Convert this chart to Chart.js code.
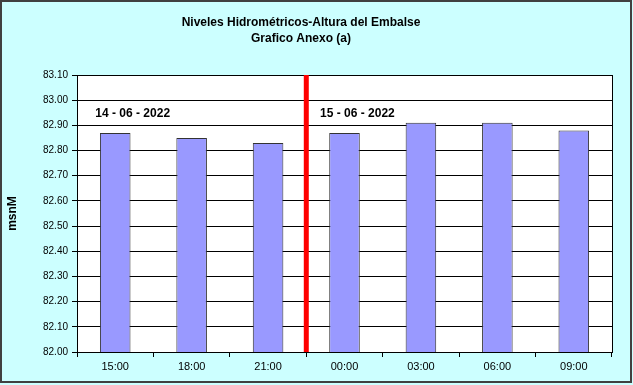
<!DOCTYPE html>
<html>
<head>
<meta charset="utf-8">
<script src="https://cdn.jsdelivr.net/npm/chart.js@4/dist/chart.umd.min.js"></script>
<style>
    html, body { margin: 0; padding: 0; background: #ccffff; }
    #wrap { width: 633px; height: 385px; }
</style>
</head>
<body>
<div id="wrap"><canvas id="level-chart" width="633" height="385"></canvas></div>
<script>
const hours = ['15:00', '18:00', '21:00', '00:00', '03:00', '06:00', '09:00'];
const levels = [82.87, 82.85, 82.83, 82.87, 82.91, 82.91, 82.88];
const dayLabels = ['14 - 06 - 2022', '15 - 06 - 2022'];
const titleLines = ['Niveles Hidrométricos-Altura del Embalse', 'Grafico Anexo (a)'];
const yTitle = 'msnM';

const ctx = document.getElementById('level-chart').getContext('2d');

// frame, title, day separator and date labels
const extras = {
    id: 'extras',
    beforeDraw(chart) {
        const c = chart.ctx;
        c.save();
        c.fillStyle = '#ccffff';
        c.fillRect(0, 0, chart.width, chart.height);
        c.fillStyle = '#ffffff';
        const a = chart.chartArea;
        c.fillRect(a.left, a.top, a.right - a.left, a.bottom - a.top);
        c.restore();
    },
    afterDatasetsDraw(chart) {
        const c = chart.ctx;
        const a = chart.chartArea;
        const x = chart.scales.x;
        const y = chart.scales.y;
        c.save();

        // plot border
        c.strokeStyle = '#000';
        c.lineWidth = 1;
        c.strokeRect(a.left + 0.5, a.top + 0.5, a.right - a.left, a.bottom - a.top);

        // red separator between the two days
        const sx = x.getPixelForValue(2.5);
        c.strokeStyle = '#ff0000';
        c.lineWidth = 5;
        c.beginPath();
        c.moveTo(sx, a.top);
        c.lineTo(sx, a.bottom);
        c.stroke();

        // date labels
        c.fillStyle = '#000';
        c.font = 'bold 12px "Liberation Sans", Arial, sans-serif';
        c.textBaseline = 'middle';
        c.textAlign = 'left';
        const ly = y.getPixelForValue(82.948);
        c.fillText(dayLabels[0], x.getPixelForValue(-0.26), ly);
        c.fillText(dayLabels[1], x.getPixelForValue(2.68), ly);

        // title
        c.textAlign = 'center';
        c.fillText(titleLines[0], 301, 23);
        c.fillText(titleLines[1], 301, 39);

        // outer frame
        c.strokeStyle = '#404040';
        c.lineWidth = 2;
        c.strokeRect(1, 1, chart.width - 3, chart.height - 4);
        c.restore();
    }
};

const levelChart = new Chart(ctx, {
    type: 'bar',
    data: {
        labels: hours,
        datasets: [{
            label: 'Nivel',
            data: levels,
            backgroundColor: '#9999ff',
            borderColor: '#333333',
            borderWidth: 1,
            barPercentage: 0.4,
            categoryPercentage: 1
        }]
    },
    options: {
        responsive: false,
        animation: false,
        layout: { padding: { left: 0, right: 21, top: 75, bottom: 0 } },
        plugins: {
            legend: { display: false },
            title: { display: false },
            tooltip: { enabled: false }
        },
        scales: {
            x: {
                afterFit(scale) { scale.height = 33; },
                grid: {
                    offset: true,
                    drawOnChartArea: false,
                    drawTicks: true,
                    tickLength: 5,
                    color: '#000'
                },
                border: { color: '#000' },
                ticks: {
                    color: '#000',
                    padding: 3,
                    font: { family: '"Liberation Sans", Arial, sans-serif', size: 11 }
                }
            },
            y: {
                min: 82,
                max: 83.1,
                afterFit(scale) { scale.width = 77; },
                grid: { color: '#000', tickLength: 5 },
                border: { color: '#000' },
                title: {
                    display: true,
                    text: yTitle,
                    color: '#000',
                    padding: { top: 5, bottom: 0 },
                    font: { family: '"Liberation Sans", Arial, sans-serif', size: 12, weight: 'bold' }
                },
                ticks: {
                    stepSize: 0.1,
                    color: '#000',
                    padding: 4,
                    font: { family: '"Liberation Sans", Arial, sans-serif', size: 10 },
                    callback: v => Number(v).toFixed(2)
                }
            }
        }
    },
    plugins: [extras]
});
</script>
</body>
</html>
